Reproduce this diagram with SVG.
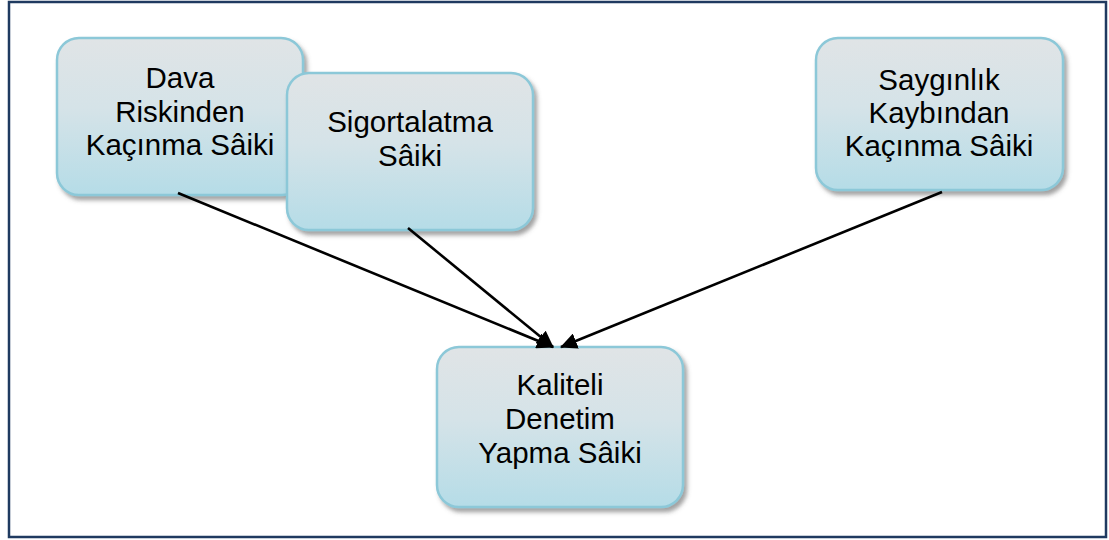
<svg xmlns="http://www.w3.org/2000/svg" width="1109" height="540" viewBox="0 0 1109 540">
  <defs>
    <linearGradient id="boxFill" x1="0" y1="0" x2="0" y2="1">
      <stop offset="0" stop-color="#E0E4E6"/>
      <stop offset="0.45" stop-color="#D5E3E8"/>
      <stop offset="1" stop-color="#B5DCE7"/>
    </linearGradient>
    <filter id="shadow" x="-10%" y="-10%" width="125%" height="130%">
      <feDropShadow dx="3" dy="4" stdDeviation="2" flood-color="#555" flood-opacity="0.55"/>
    </filter>
    <marker id="arrow" markerUnits="userSpaceOnUse" markerWidth="17" markerHeight="16" viewBox="0 0 17 16" refX="16" refY="8" orient="auto">
      <path d="M0,0 L17,8 L0,16 Z" fill="#000"/>
    </marker>
    <style>
      .box { fill: url(#boxFill); stroke: #8CC8D8; stroke-width: 2.5; filter: url(#shadow); }
      .label { font-family: "Liberation Sans", Arial, sans-serif; font-size: 29.5px; fill: #000; text-anchor: middle; }
      .edge { stroke: #000; stroke-width: 2.6; fill: none; marker-end: url(#arrow); }
    </style>
  </defs>

  <rect x="0" y="0" width="1109" height="540" fill="#fff"/>
  <!-- outer frame -->
  <rect x="9" y="2" width="1097" height="535" fill="none" stroke="#1F3A60" stroke-width="2.5"/>

  <g id="node-dava">
    <rect class="box" x="57" y="38" width="246" height="157" rx="22" ry="22"/>
    <text class="label" x="180" y="88">Dava</text>
    <text class="label" x="180" y="122">Riskinden</text>
    <text class="label" x="180" y="155">Kaçınma Sâiki</text>
  </g>

  <g id="node-sigorta">
    <rect class="box" x="287" y="73" width="246" height="157" rx="22" ry="22"/>
    <text class="label" x="410" y="132">Sigortalatma</text>
    <text class="label" x="410" y="166">Sâiki</text>
  </g>

  <g id="node-saygi">
    <rect class="box" x="816" y="38" width="247" height="152" rx="22" ry="22"/>
    <text class="label" x="939" y="90">Saygınlık</text>
    <text class="label" x="939" y="123">Kaybından</text>
    <text class="label" x="939" y="156">Kaçınma Sâiki</text>
  </g>

  <g id="node-kalite">
    <rect class="box" x="437" y="347" width="246" height="160" rx="22" ry="22"/>
    <text class="label" x="560" y="395">Kaliteli</text>
    <text class="label" x="560" y="429">Denetim</text>
    <text class="label" x="560" y="463">Yapma Sâiki</text>
  </g>

  <g id="connectors">
    <line class="edge" x1="178" y1="193" x2="553" y2="347"/>
    <line class="edge" x1="408" y1="228" x2="553" y2="347"/>
    <line class="edge" x1="942" y1="192" x2="561" y2="347"/>
  </g>
</svg>
